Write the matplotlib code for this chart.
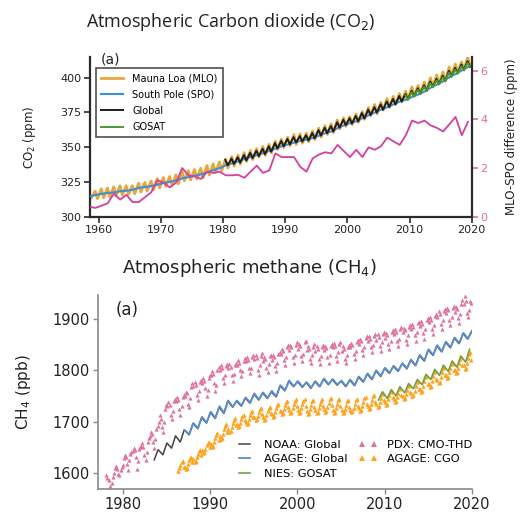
import numpy as np
import matplotlib
matplotlib.use("Agg")
import matplotlib.pyplot as plt

# ---------------- CO2 (top panel) ----------------
co2_years = list(range(1958, 2020))
mlo_peak = [317.5, 318.3, 320.0, 320.6, 321.4, 322.2, 322.2, 322.3, 324.1, 324.6,
            325.6, 327.3, 328.1, 328.9, 330.0, 332.5, 333.1, 333.9, 334.8, 336.8,
            338.0, 339.3, 341.5, 343.0, 344.2, 346.0, 347.5, 348.9, 350.4, 352.0,
            354.2, 355.7, 357.1, 359.0, 359.5, 360.0, 361.6, 363.6, 365.4, 366.7,
            369.5, 371.0, 371.8, 373.8, 375.6, 378.4, 380.6, 382.2, 384.9, 386.4,
            388.5, 390.2, 393.2, 394.2, 396.8, 399.8, 401.9, 403.9, 407.6, 409.7,
            411.2, 414.7]
mlo_trough = [313.3, 313.0, 313.6, 314.2, 315.0, 315.6, 316.1, 316.5, 317.8, 318.5,
              319.2, 320.6, 321.7, 322.4, 323.6, 325.8, 326.5, 327.2, 327.9, 330.0,
              331.7, 333.1, 335.0, 336.4, 337.8, 339.7, 341.1, 342.8, 344.0, 345.9,
              348.3, 349.7, 350.9, 351.9, 352.8, 353.8, 355.4, 357.2, 359.1, 360.4,
              363.1, 364.9, 366.2, 367.8, 370.0, 372.6, 373.9, 376.6, 378.6, 380.6,
              382.4, 384.4, 386.8, 388.6, 390.6, 393.3, 395.5, 397.6, 401.0, 403.6,
              405.4, 408.4]
spo_annual = [314.6, 315.6, 316.5, 317.1, 317.5, 318.3, 318.7, 319.4, 320.8, 321.4,
              322.0, 323.1, 324.3, 325.1, 326.1, 327.7, 328.5, 329.5, 330.5, 332.0,
              333.6, 335.0, 337.1, 338.4, 339.8, 341.6, 343.0, 344.3, 345.8, 347.4,
              349.1, 350.8, 352.0, 353.3, 354.5, 355.4, 356.6, 358.4, 360.1, 361.3,
              363.9, 365.8, 367.3, 368.6, 371.0, 373.1, 375.0, 377.1, 378.8, 380.9,
              382.9, 384.3, 386.2, 388.0, 390.1, 393.0, 395.2, 397.5, 400.6, 402.7,
              405.4, 407.8]
mlo_spo_diff = [0.42, 0.36, 0.45, 0.55, 0.95, 0.70, 0.90, 0.60, 0.60, 0.80,
                1.00, 1.50, 1.40, 1.20, 1.40, 2.00, 1.70, 1.65, 1.55, 1.85,
                1.80, 1.85, 1.70, 1.70, 1.72, 1.60, 1.85, 2.10, 1.80, 1.90,
                2.60, 2.45, 2.45, 2.45, 2.05, 1.85, 2.40, 2.55, 2.65, 2.60,
                2.95, 2.70, 2.45, 2.75, 2.45, 2.85, 2.75, 2.90, 3.25, 3.10,
                2.95, 3.35, 3.95, 3.85, 3.95, 3.75, 3.65, 3.50, 3.80, 4.10,
                3.35, 3.90]

glob_years = list(range(1980, 2020))
glob_peak = [340.8, 341.8, 342.7, 344.3, 345.9, 347.4, 348.8, 350.6, 352.9, 354.5,
             355.9, 357.2, 357.9, 358.6, 360.2, 362.2, 363.9, 365.1, 367.9, 369.7,
             370.8, 372.4, 374.5, 376.9, 378.7, 380.7, 382.8, 384.6, 386.7, 388.2,
             390.5, 392.3, 394.4, 397.1, 399.1, 401.3, 404.8, 406.9, 409.3, 411.7]
glob_trough = [336.9, 337.9, 338.8, 340.4, 342.0, 343.5, 344.9, 346.7, 349.0, 350.6,
               352.0, 353.3, 354.0, 354.7, 356.3, 358.3, 360.0, 361.2, 364.0, 365.8,
               366.9, 368.5, 370.6, 373.0, 374.8, 376.8, 378.9, 380.7, 382.8, 384.3,
               386.6, 388.4, 390.5, 393.2, 395.2, 397.4, 400.9, 403.0, 405.4, 407.8]

gosat_co2_years = list(range(2009, 2020))
gosat_co2_peak = [387.3, 389.5, 391.2, 393.3, 395.9, 398.0, 400.2, 403.6, 405.7, 408.1, 410.5]
gosat_co2_trough = [384.0, 386.4, 388.2, 390.3, 393.0, 395.0, 397.2, 400.6, 402.8, 405.2, 407.6]

# ---------------- CH4 (bottom panel) ----------------
noaa_peak_years = list(range(1984, 2021))
noaa_peak = [1645, 1658, 1672, 1684, 1696, 1708, 1718, 1728, 1740, 1740,
             1746, 1754, 1756, 1758, 1770, 1779, 1778, 1776, 1778, 1783,
             1782, 1779, 1781, 1787, 1793, 1799, 1804, 1808, 1813, 1820,
             1829, 1840, 1848, 1855, 1863, 1872, 1877]
noaa_trough_years = list(range(1983, 2020))
noaa_trough = [1625, 1635, 1648, 1660, 1674, 1686, 1697, 1706, 1716, 1728,
               1730, 1736, 1742, 1745, 1748, 1760, 1768, 1767, 1765, 1768,
               1772, 1771, 1768, 1770, 1777, 1782, 1788, 1794, 1798, 1803,
               1809, 1818, 1829, 1836, 1844, 1852, 1861]

agage_peak_years = list(range(1987, 2021))
agage_peak = [1683, 1697, 1709, 1719, 1730, 1741, 1741, 1747, 1755, 1757,
              1760, 1771, 1780, 1779, 1777, 1779, 1784, 1783, 1780, 1782,
              1788, 1794, 1800, 1805, 1809, 1814, 1821, 1830, 1841, 1849,
              1856, 1864, 1873, 1877]
agage_trough_years = list(range(1987, 2020))
agage_trough = [1675, 1687, 1698, 1707, 1717, 1729, 1731, 1737, 1743, 1746,
                1749, 1761, 1769, 1768, 1766, 1769, 1773, 1772, 1769, 1771,
                1778, 1783, 1789, 1795, 1799, 1804, 1810, 1819, 1830, 1837,
                1845, 1853, 1862]

gosat_ch4_years = list(range(2009, 2020))
gosat_ch4_trough = [1742, 1745, 1750, 1756, 1764, 1772, 1782, 1790, 1798, 1806, 1816]
gosat_ch4_peak = [1758, 1762, 1768, 1774, 1782, 1792, 1802, 1810, 1818, 1828, 1841]

# PDX: CMO-THD, eight samples per year
pdx_years = list(range(1978, 2020))
pdx_vals = [
    [1595, 1590, 1585, 1575, 1565, 1580, 1592, 1600],
    [1610, 1614, 1608, 1598, 1595, 1605, 1612, 1615],
    [1628, 1634, 1630, 1618, 1605, 1625, 1636, 1640],
    [1642, 1648, 1644, 1630, 1608, 1622, 1646, 1650],
    [1652, 1658, 1650, 1635, 1625, 1640, 1660, 1668],
    [1672, 1680, 1676, 1660, 1648, 1665, 1685, 1692],
    [1700, 1712, 1705, 1690, 1680, 1700, 1725, 1732],
    [1730, 1738, 1732, 1712, 1705, 1720, 1740, 1744],
    [1740, 1748, 1742, 1725, 1712, 1730, 1748, 1752],
    [1750, 1758, 1755, 1735, 1728, 1745, 1768, 1775],
    [1770, 1778, 1772, 1752, 1742, 1760, 1778, 1782],
    [1776, 1785, 1780, 1765, 1750, 1762, 1784, 1790],
    [1790, 1798, 1792, 1775, 1760, 1772, 1800, 1806],
    [1800, 1810, 1805, 1785, 1775, 1790, 1808, 1812],
    [1804, 1812, 1806, 1790, 1780, 1792, 1810, 1815],
    [1810, 1820, 1814, 1800, 1788, 1798, 1818, 1824],
    [1818, 1826, 1820, 1805, 1795, 1805, 1825, 1830],
    [1822, 1830, 1824, 1800, 1790, 1810, 1828, 1834],
    [1818, 1826, 1822, 1805, 1796, 1812, 1828, 1830],
    [1820, 1830, 1826, 1808, 1798, 1815, 1832, 1836],
    [1832, 1842, 1838, 1820, 1810, 1825, 1845, 1850],
    [1840, 1850, 1845, 1825, 1815, 1830, 1850, 1855],
    [1842, 1852, 1848, 1828, 1818, 1832, 1855, 1858],
    [1840, 1848, 1842, 1822, 1815, 1830, 1846, 1852],
    [1838, 1848, 1842, 1822, 1812, 1828, 1846, 1850],
    [1840, 1848, 1844, 1825, 1815, 1830, 1848, 1852],
    [1845, 1854, 1848, 1828, 1818, 1835, 1852, 1856],
    [1838, 1848, 1842, 1822, 1814, 1830, 1846, 1850],
    [1845, 1854, 1850, 1832, 1822, 1838, 1856, 1860],
    [1852, 1862, 1858, 1840, 1830, 1845, 1864, 1866],
    [1858, 1866, 1862, 1845, 1835, 1850, 1866, 1870],
    [1860, 1870, 1865, 1848, 1838, 1855, 1870, 1874],
    [1864, 1873, 1868, 1852, 1842, 1858, 1874, 1878],
    [1870, 1880, 1875, 1858, 1848, 1862, 1880, 1884],
    [1874, 1883, 1878, 1860, 1852, 1868, 1885, 1888],
    [1880, 1890, 1885, 1868, 1858, 1875, 1892, 1895],
    [1886, 1896, 1890, 1872, 1862, 1880, 1898, 1902],
    [1894, 1904, 1898, 1880, 1870, 1888, 1906, 1910],
    [1905, 1915, 1910, 1890, 1880, 1898, 1916, 1920],
    [1912, 1922, 1918, 1898, 1888, 1905, 1922, 1926],
    [1914, 1924, 1920, 1902, 1892, 1910, 1930, 1938],
    [1930, 1945, 1936, 1912, 1905, 1918, 1935, 1932],
]

# AGAGE: CGO, eight samples per year (record starts in 1986)
cgo_years = list(range(1986, 2020))
cgo_vals = [
    [None, None, 1604, 1610, 1616, 1620, 1622, 1612],
    [1612, 1608, 1610, 1617, 1624, 1628, 1630, 1620],
    [1626, 1620, 1622, 1630, 1637, 1642, 1644, 1634],
    [1644, 1638, 1640, 1647, 1654, 1658, 1660, 1650],
    [1656, 1650, 1652, 1660, 1668, 1674, 1677, 1664],
    [1672, 1665, 1668, 1676, 1685, 1692, 1695, 1680],
    [1686, 1680, 1682, 1690, 1698, 1703, 1706, 1694],
    [1696, 1690, 1692, 1698, 1705, 1710, 1712, 1702],
    [1700, 1695, 1697, 1704, 1712, 1718, 1720, 1708],
    [1708, 1702, 1704, 1711, 1718, 1724, 1726, 1715],
    [1709, 1703, 1705, 1712, 1720, 1726, 1728, 1716],
    [1714, 1708, 1710, 1718, 1726, 1732, 1734, 1720],
    [1720, 1714, 1716, 1724, 1732, 1738, 1740, 1728],
    [1722, 1716, 1718, 1726, 1734, 1741, 1743, 1730],
    [1722, 1716, 1718, 1726, 1735, 1741, 1743, 1730],
    [1720, 1715, 1717, 1725, 1733, 1740, 1742, 1728],
    [1722, 1716, 1718, 1726, 1734, 1741, 1743, 1730],
    [1724, 1718, 1720, 1728, 1736, 1743, 1745, 1732],
    [1723, 1717, 1719, 1727, 1735, 1742, 1744, 1731],
    [1722, 1716, 1718, 1725, 1733, 1740, 1742, 1729],
    [1723, 1718, 1720, 1727, 1735, 1742, 1744, 1731],
    [1726, 1720, 1722, 1730, 1738, 1745, 1747, 1734],
    [1730, 1724, 1726, 1734, 1742, 1749, 1751, 1738],
    [1734, 1728, 1730, 1738, 1746, 1753, 1755, 1742],
    [1739, 1733, 1735, 1743, 1751, 1758, 1760, 1747],
    [1744, 1738, 1740, 1748, 1756, 1763, 1765, 1752],
    [1749, 1743, 1745, 1753, 1762, 1769, 1771, 1757],
    [1756, 1750, 1752, 1760, 1769, 1777, 1779, 1764],
    [1764, 1758, 1760, 1769, 1779, 1786, 1789, 1773],
    [1774, 1768, 1770, 1779, 1789, 1796, 1798, 1783],
    [1782, 1776, 1778, 1787, 1797, 1804, 1806, 1791],
    [1791, 1785, 1787, 1796, 1805, 1812, 1814, 1800],
    [1800, 1794, 1796, 1805, 1815, 1822, 1825, 1810],
    [1810, 1803, 1805, 1814, 1824, 1832, 1836, 1820],
]


def zigzag(peak_years, peaks, peak_off, trough_years, troughs, trough_off):
    pts = [(y + peak_off, v) for y, v in zip(peak_years, peaks)]
    pts += [(y + trough_off, v) for y, v in zip(trough_years, troughs)]
    pts.sort()
    return np.array([p[0] for p in pts]), np.array([p[1] for p in pts])


def sub_annual(years, vals):
    t, v = [], []
    for y, row in zip(years, vals):
        for i, val in enumerate(row):
            if val is not None:
                t.append(y + (i + 0.5) / 8)
                v.append(val)
    return np.array(t), np.array(v)


fig = plt.figure(figsize=(5.25, 5.12), dpi=100)

# ---------------- top panel ----------------
C_MLO = "#e8a73a"
C_SPO = "#3f8fda"
C_GLB = "#1e1e1e"
C_GOS = "#4f9a2c"
C_DIF = "#d43fa0"
C_RTK = "#e46d96"

ax1 = fig.add_axes([0.1705, 0.5768, 0.7280, 0.3112])
ax2 = ax1.twinx()

t, v = zigzag(co2_years, mlo_peak, 0.37, co2_years, mlo_trough, 0.75)
ax1.plot(t, v, color=C_MLO, lw=2.0, label="Mauna Loa (MLO)", zorder=2)
ax1.plot(np.array(co2_years) + 0.5, spo_annual, color=C_SPO, lw=1.5,
         label="South Pole (SPO)", zorder=3)
t, v = zigzag(glob_years, glob_peak, 0.33, glob_years, glob_trough, 0.72)
ax1.plot(t, v, color=C_GLB, lw=1.4, label="Global", zorder=4)
t, v = zigzag(gosat_co2_years, gosat_co2_peak, 0.33, gosat_co2_years, gosat_co2_trough, 0.72)
ax1.plot(t, v, color=C_GOS, lw=1.4, label="GOSAT", zorder=5)

ax2.plot(np.array(co2_years) + 0.4, mlo_spo_diff, color=C_DIF, lw=1.3)

ax1.set_xlim(1958.47, 2020)
ax1.set_ylim(300, 414.5)
ax1.set_xticks([1960, 1970, 1980, 1990, 2000, 2010, 2020])
ax1.set_yticks([300, 325, 350, 375, 400])
ax2.set_ylim(0, 6.55)
ax2.set_yticks([0, 2, 4, 6])

for a in (ax1, ax2):
    a.spines["top"].set_visible(False)
    for s in ("left", "right", "bottom"):
        a.spines[s].set_color("#2a2a2a")
        a.spines[s].set_linewidth(1.6)
ax1.spines["right"].set_visible(False)
ax2.spines["left"].set_visible(False)
ax2.spines["bottom"].set_visible(False)

ax1.tick_params(axis="both", labelsize=8, length=4, width=1.2, colors="#2a2a2a",
                labelcolor="#222222", pad=2)
ax2.tick_params(axis="y", labelsize=8, length=4, width=1.2, colors=C_RTK, pad=2)

ax1.set_ylabel("CO$_2$ (ppm)", fontsize=8.5, color="#222222")
ax1.yaxis.set_label_coords(-0.135, 0.5)
ax2.set_ylabel("MLO-SPO difference (ppm)", fontsize=8.5, color="#222222")
ax2.yaxis.set_label_coords(1.087, 0.5)

ax1.text(0.054, 0.985, "(a)", transform=ax1.transAxes, fontsize=10,
         ha="center", va="center", color="#222222")

leg1 = ax1.legend(loc="upper left", bbox_to_anchor=(0.017, 0.93), fontsize=7,
                  frameon=True, fancybox=False, edgecolor="#222222",
                  handlelength=2.2, labelspacing=0.62, borderpad=0.55,
                  borderaxespad=0.0, handletextpad=1.0)
leg1.get_frame().set_linewidth(1.2)
leg1.set_zorder(10)

fig.text(0.439, 0.957, "Atmospheric Carbon dioxide (CO$_2$)", fontsize=13,
         family="Open Sans", ha="center", va="center", color="#222222")

# ---------------- bottom panel ----------------
C_PDX = "#e0709c"
C_CGO = "#ffa31e"
C_NOAA = "#444444"
C_AGA = "#5a8fd2"
C_NIES = "#73a044"

ax3 = fig.add_axes([0.186, 0.0443, 0.7125, 0.3795])

t, v = sub_annual(pdx_years, pdx_vals)
ax3.plot(t, v, linestyle="none", marker="^", markersize=3.0, color=C_PDX,
         markeredgewidth=0, label="PDX: CMO-THD", zorder=2)
t, v = sub_annual(cgo_years, cgo_vals)
ax3.plot(t, v, linestyle="none", marker="^", markersize=3.2, color=C_CGO,
         markeredgewidth=0, label="AGAGE: CGO", zorder=2)

t, v = zigzag(noaa_peak_years, noaa_peak, 0.0, noaa_trough_years, noaa_trough, 0.55)
ax3.plot(t, v, color=C_NOAA, lw=1.1, label="NOAA: Global", zorder=3)
t, v = zigzag(agage_peak_years, agage_peak, 0.05, agage_trough_years, agage_trough, 0.58)
ax3.plot(t, v, color=C_AGA, lw=1.3, label="AGAGE: Global", zorder=4)
t, v = zigzag(gosat_ch4_years, gosat_ch4_peak, 0.75, gosat_ch4_years, gosat_ch4_trough, 0.3)
ax3.plot(t, v, color=C_NIES, lw=1.2, label="NIES: GOSAT", zorder=5)

ax3.set_xlim(1977.06, 2020)
ax3.set_ylim(1567.6, 1947)
ax3.set_xticks([1980, 1990, 2000, 2010, 2020])
ax3.set_yticks([1600, 1700, 1800, 1900])
ax3.spines["top"].set_visible(False)
ax3.spines["right"].set_visible(False)
for s in ("left", "bottom"):
    ax3.spines[s].set_color("#8a8a8a")
    ax3.spines[s].set_linewidth(1.2)
ax3.tick_params(axis="both", labelsize=10.5, length=3.5, width=1.0, colors="#8a8a8a",
                labelcolor="#222222", pad=2)
ax3.set_ylabel("CH$_4$ (ppb)", fontsize=11, color="#222222")
ax3.yaxis.set_label_coords(-0.173, 0.503)
ax3.text(0.078, 0.923, "(a)", transform=ax3.transAxes, fontsize=12,
         ha="center", va="center", color="#222222")

h, l = ax3.get_legend_handles_labels()
order = [2, 3, 4, 0, 1]
ax3.legend([h[i] for i in order], [l[i] for i in order], ncol=2, frameon=False,
           fontsize=8.2, loc="lower right", bbox_to_anchor=(1.03, 0.0),
           numpoints=2, handlelength=1.6, columnspacing=1.0, labelspacing=0.42,
           handletextpad=0.9, markerscale=1.4)

fig.text(0.476, 0.477, "Atmospheric methane (CH$_4$)", fontsize=13,
         ha="center", va="center", color="#222222")

fig.savefig("out.png", dpi=100)
